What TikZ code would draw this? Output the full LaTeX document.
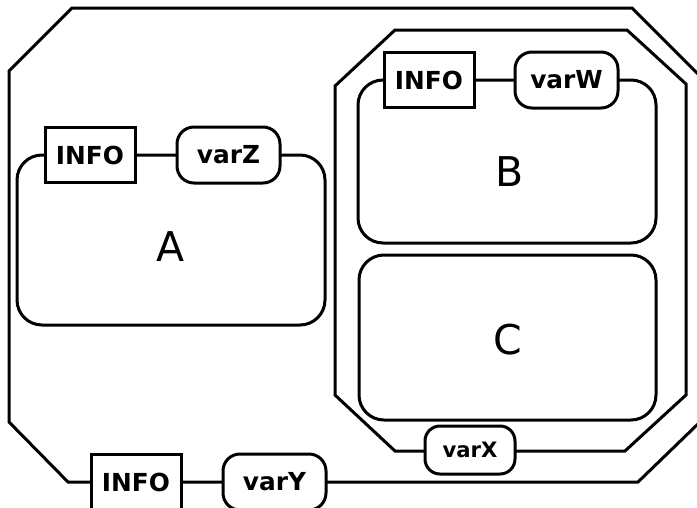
\documentclass[tikz,border=0pt]{standalone}
\usepackage{fontspec}
\setmainfont{DejaVu Sans}
\begin{document}
\begin{tikzpicture}[x=1pt,y=-1pt,line width=3pt,line join=miter,
  region/.style={draw,rounded corners=25pt,inner sep=0pt},
  infobox/.style={draw,fill=white,inner sep=0pt,minimum width=90pt,minimum height=55pt,
    font=\bfseries\fontsize{24.8}{30}\selectfont},
  varbox/.style={draw,fill=white,rounded corners=17pt,inner sep=0pt,minimum width=103pt,minimum height=56pt,
    font=\bfseries\fontsize{24.8}{30}\selectfont},
  smallvar/.style={varbox,minimum width=90pt,minimum height=48pt,rounded corners=15pt,
    font=\bfseries\fontsize{21.2}{26}\selectfont},
  biglabel/.style={inner sep=0pt,font=\fontsize{41}{48}\selectfont}]
\useasboundingbox (0,0) rectangle (697,507);
% outer frame
\draw (72,8) -- (632,8) -- (700,76) -- (700,422) -- (638,482) -- (68,482) -- (9,422) -- (9,71) -- cycle;
% inner frame
\draw (395,30) -- (627,30) -- (686,84) -- (686,395) -- (625,451) -- (395,451) -- (335,395) -- (335,86) -- cycle;
% regions
\node[region,minimum width=308pt,minimum height=170pt] (A) at (171,240) {};
\node[region,minimum width=298pt,minimum height=163pt] (B) at (507,161.5) {};
\node[region,minimum width=297pt,minimum height=165pt] (C) at (507.5,337.5) {};
\node[biglabel] (Alab) at (171,247) {A};
\node[biglabel] (Blab) at (510,172) {B};
\node[biglabel] (Clab) at (508,340) {C};
% nodes on the borders
\node[infobox] (infoA) at (90,155) {INFO};
\node[varbox] (varZ) at (228.5,155) {varZ};
\node[infobox] (infoB) at (429,80) {INFO};
\node[varbox] (varW) at (566.5,80) {varW};
\node[smallvar] (varX) at (470,450) {varX};
\node[infobox] (infoY) at (136,482) {INFO};
\node[varbox] (varY) at (274.5,482) {varY};
\end{tikzpicture}
\end{document}
